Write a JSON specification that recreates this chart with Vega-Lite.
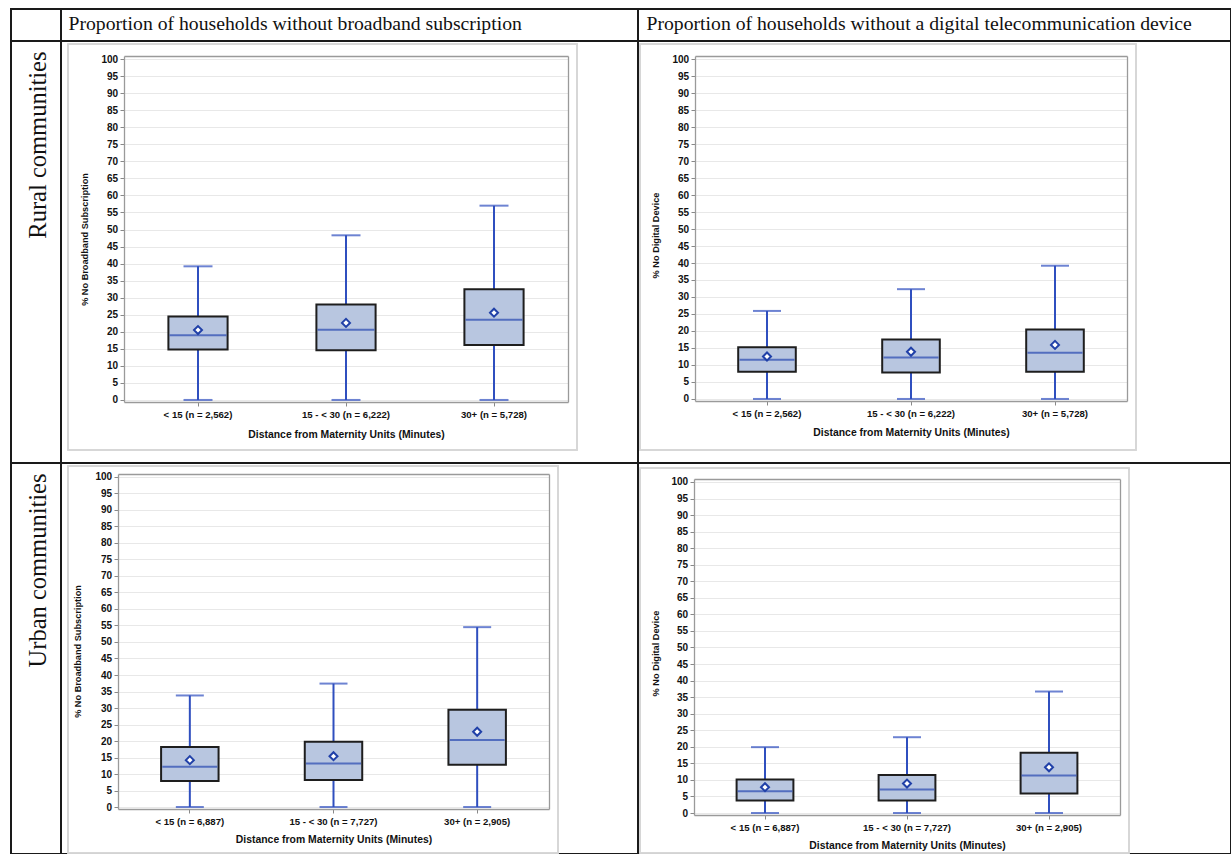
{
  "$schema": "https://vega.github.io/schema/vega-lite/v6.json",
  "background": "white",
  "padding": {"left": 10, "top": 8, "right": 0, "bottom": 0},
  "columns": 3,
  "spacing": 0,
  "bounds": "flush",
  "config": {
    "view": {"stroke": "#1a1a1a", "strokeWidth": 2},
    "axis": {"labelFont": "Liberation Sans", "labelFontSize": 10, "labelFontWeight": "bold", "labelColor": "#111111", "labelOverlap": false, "titleFont": "Liberation Sans", "titleFontWeight": "bold", "titleColor": "#111111", "domainColor": "#9a9a9a", "domainWidth": 1.3, "tickColor": "#888888", "gridColor": "#e8e8e8", "tickSize": 4},
    "axisX": {"grid": false, "titleFontSize": 10.4, "labelFontSize": 9.6, "labelAngle": 0, "labelPadding": 3.5, "titleBaseline": "middle"},
    "axisY": {"titleFontSize": 9.2, "labelPadding": 2.4, "titleBaseline": "middle", "titleAlign": "center", "titleAngle": -90}
  },
  "datasets": {
    "boxes": [
      {"panel": "RB", "dist": "< 15 (n = 2,562)", "lo": 0, "q1": 14.8, "median": 19.0, "q3": 24.5, "hi": 39.2, "mean": 20.5},
      {"panel": "RB", "dist": "15 - < 30 (n = 6,222)", "lo": 0, "q1": 14.6, "median": 20.6, "q3": 28.0, "hi": 48.3, "mean": 22.6},
      {"panel": "RB", "dist": "30+ (n = 5,728)", "lo": 0, "q1": 16.1, "median": 23.5, "q3": 32.5, "hi": 57.0, "mean": 25.6},
      {"panel": "RD", "dist": "< 15 (n = 2,562)", "lo": 0, "q1": 8.0, "median": 11.5, "q3": 15.2, "hi": 25.9, "mean": 12.5},
      {"panel": "RD", "dist": "15 - < 30 (n = 6,222)", "lo": 0, "q1": 7.8, "median": 12.2, "q3": 17.5, "hi": 32.3, "mean": 13.9},
      {"panel": "RD", "dist": "30+ (n = 5,728)", "lo": 0, "q1": 8.0, "median": 13.6, "q3": 20.4, "hi": 39.2, "mean": 15.9},
      {"panel": "UB", "dist": "< 15 (n = 6,887)", "lo": 0, "q1": 7.9, "median": 12.2, "q3": 18.2, "hi": 33.8, "mean": 14.2},
      {"panel": "UB", "dist": "15 - < 30 (n = 7,727)", "lo": 0, "q1": 8.2, "median": 13.2, "q3": 19.8, "hi": 37.4, "mean": 15.4},
      {"panel": "UB", "dist": "30+ (n = 2,905)", "lo": 0, "q1": 12.8, "median": 20.3, "q3": 29.5, "hi": 54.5, "mean": 22.8},
      {"panel": "UD", "dist": "< 15 (n = 6,887)", "lo": 0, "q1": 3.8, "median": 6.6, "q3": 10.1, "hi": 19.9, "mean": 7.8},
      {"panel": "UD", "dist": "15 - < 30 (n = 7,727)", "lo": 0, "q1": 3.8, "median": 7.1, "q3": 11.5, "hi": 22.9, "mean": 8.9},
      {"panel": "UD", "dist": "30+ (n = 2,905)", "lo": 0, "q1": 5.9, "median": 11.3, "q3": 18.2, "hi": 36.7, "mean": 13.8}
    ]
  },
  "concat": [
    {"width": 50, "height": 32, "data": {"values": [{"v": 0}]}, "mark": {"type": "point", "opacity": 0},
     "encoding": {"x": {"field": "v", "type": "quantitative", "axis": null}, "y": {"field": "v", "type": "quantitative", "axis": null}}},
    {"width": 577, "height": 32, "data": {"values": [{"v": 0}]}, "mark": {"type": "point", "opacity": 0},
     "encoding": {"x": {"field": "v", "type": "quantitative",
       "axis": {"orient": "top", "domain": false, "ticks": false, "labels": false, "grid": false,
         "title": "Proportion of households without broadband subscription", "titleX": 7, "titleY": 20, "titleAlign": "left", "titleBaseline": "alphabetic", "titleAngle": 0,
         "titleFont": "Liberation Serif", "titleFontSize": 19.7, "titleFontWeight": "normal", "titleColor": "#111111"}}}},
    {"width": 593, "height": 32, "data": {"values": [{"v": 0}]}, "mark": {"type": "point", "opacity": 0},
     "encoding": {"x": {"field": "v", "type": "quantitative",
       "axis": {"orient": "top", "domain": false, "ticks": false, "labels": false, "grid": false,
         "title": "Proportion of households without a digital telecommunication device", "titleX": 8, "titleY": 20, "titleAlign": "left", "titleBaseline": "alphabetic", "titleAngle": 0,
         "titleFont": "Liberation Serif", "titleFontSize": 19.7, "titleFontWeight": "normal", "titleColor": "#111111"}}}},
    {"width": 50, "height": 422, "data": {"values": [{"v": 0}]}, "mark": {"type": "point", "opacity": 0},
     "encoding": {"y": {"field": "v", "type": "quantitative",
       "axis": {"orient": "left", "domain": false, "ticks": false, "labels": false, "grid": false,
         "title": "Rural communities", "titleX": 27, "titleY": 10, "titleAlign": "right", "titleBaseline": "middle", "titleAngle": -90,
         "titleFont": "Liberation Serif", "titleFontSize": 24.5, "titleFontWeight": "normal", "titleColor": "#111111"}}}},
    {
      "width": 577, "height": 422,
      "data": {"name": "boxes"},
      "transform": [{"filter": "datum.panel == 'RB'"}],
      "resolve": {"axis": {"x": "independent", "y": "independent"}},
      "layer": [
        {
          "encoding": {
            "x": {"field": "dist", "type": "nominal", "sort": null,
              "scale": {"type": "band", "range": [63, 507], "paddingInner": 0, "paddingOuter": 0},
              "axis": {"orient": "bottom", "offset": -61, "title": "Distance from Maternity Units (Minutes)", "titleY": 32}}
          },
          "layer": [
            {"mark": {"type": "rule", "color": "#2f4fbf", "strokeWidth": 2},
             "encoding": {"y": {"field": "lo", "type": "quantitative", "title": "% No Broadband Subscription",
               "scale": {"domain": [-0.6, 100.9], "range": [361, 15], "nice": false, "zero": false},
               "axis": {"offset": -63, "values": [0,5,10,15,20,25,30,35,40,45,50,55,60,65,70,75,80,85,90,95,100], "titleX": -40, "titleY": 198}},
               "y2": {"field": "hi"}}},
            {"mark": {"type": "tick", "color": "#2f4fbf", "thickness": 2, "size": 29},
             "encoding": {"y": {"field": "hi", "type": "quantitative", "title": "% No Broadband Subscription",
               "axis": {"offset": -63, "values": [0,5,10,15,20,25,30,35,40,45,50,55,60,65,70,75,80,85,90,95,100], "titleX": -40, "titleY": 198}}}},
            {"mark": {"type": "tick", "color": "#2f4fbf", "thickness": 2, "size": 29},
             "encoding": {"y": {"field": "lo", "type": "quantitative", "title": "% No Broadband Subscription",
               "axis": {"offset": -63, "values": [0,5,10,15,20,25,30,35,40,45,50,55,60,65,70,75,80,85,90,95,100], "titleX": -40, "titleY": 198}}}},
            {"mark": {"type": "bar", "fill": "#b8c6e0", "stroke": "#1e1e1e", "strokeWidth": 2, "width": {"band": 0.4}},
             "encoding": {"y": {"field": "q1", "type": "quantitative", "title": "% No Broadband Subscription",
               "axis": {"offset": -63, "values": [0,5,10,15,20,25,30,35,40,45,50,55,60,65,70,75,80,85,90,95,100], "titleX": -40, "titleY": 198}}, "y2": {"field": "q3"}}},
            {"mark": {"type": "tick", "color": "#2848b0", "thickness": 2, "size": 57},
             "encoding": {"y": {"field": "median", "type": "quantitative", "title": "% No Broadband Subscription",
               "axis": {"offset": -63, "values": [0,5,10,15,20,25,30,35,40,45,50,55,60,65,70,75,80,85,90,95,100], "titleX": -40, "titleY": 198}}}},
            {"mark": {"type": "point", "shape": "diamond", "filled": true, "fill": "#ffffff", "stroke": "#2040a8", "strokeWidth": 2, "size": 64, "opacity": 1},
             "encoding": {"y": {"field": "mean", "type": "quantitative", "title": "% No Broadband Subscription",
               "axis": {"offset": -63, "values": [0,5,10,15,20,25,30,35,40,45,50,55,60,65,70,75,80,85,90,95,100], "titleX": -40, "titleY": 198}}}}
          ]
        },
        {
          "mark": {"type": "rect", "fill": null, "stroke": "#d6d6d6", "strokeWidth": 1.5},
          "encoding": {
            "x": {"datum": "< 15 (n = 2,562)", "type": "nominal", "bandPosition": -0.378, "axis": {"orient": "top", "offset": -15, "ticks": false, "labels": false, "grid": false, "title": null}},
            "x2": {"datum": "30+ (n = 5,728)", "bandPosition": 1.061},
            "y": {"datum": 104.42, "type": "quantitative", "axis": {"orient": "right", "offset": -70, "ticks": false, "labels": false, "grid": false, "title": null}},
            "y2": {"datum": -14.68}
          }
        }
      ]
    },
    {
      "width": 593, "height": 422,
      "data": {"name": "boxes"},
      "transform": [{"filter": "datum.panel == 'RD'"}],
      "resolve": {"axis": {"x": "independent", "y": "independent"}},
      "layer": [
        {
          "encoding": {
            "x": {"field": "dist", "type": "nominal", "sort": null,
              "scale": {"type": "band", "range": [57, 489], "paddingInner": 0, "paddingOuter": 0},
              "axis": {"orient": "bottom", "offset": -62, "title": "Distance from Maternity Units (Minutes)", "titleY": 31.7}}
          },
          "layer": [
            {"mark": {"type": "rule", "color": "#2f4fbf", "strokeWidth": 2},
             "encoding": {"y": {"field": "lo", "type": "quantitative", "title": "% No Digital Device",
               "scale": {"domain": [-0.6, 100.9], "range": [360, 15], "nice": false, "zero": false},
               "axis": {"offset": -57, "values": [0,5,10,15,20,25,30,35,40,45,50,55,60,65,70,75,80,85,90,95,100], "titleX": -39.7, "titleY": 194}},
               "y2": {"field": "hi"}}},
            {"mark": {"type": "tick", "color": "#2f4fbf", "thickness": 2, "size": 28},
             "encoding": {"y": {"field": "hi", "type": "quantitative", "title": "% No Digital Device",
               "axis": {"offset": -57, "values": [0,5,10,15,20,25,30,35,40,45,50,55,60,65,70,75,80,85,90,95,100], "titleX": -39.7, "titleY": 194}}}},
            {"mark": {"type": "tick", "color": "#2f4fbf", "thickness": 2, "size": 28},
             "encoding": {"y": {"field": "lo", "type": "quantitative", "title": "% No Digital Device",
               "axis": {"offset": -57, "values": [0,5,10,15,20,25,30,35,40,45,50,55,60,65,70,75,80,85,90,95,100], "titleX": -39.7, "titleY": 194}}}},
            {"mark": {"type": "bar", "fill": "#b8c6e0", "stroke": "#1e1e1e", "strokeWidth": 2, "width": {"band": 0.4}},
             "encoding": {"y": {"field": "q1", "type": "quantitative", "title": "% No Digital Device",
               "axis": {"offset": -57, "values": [0,5,10,15,20,25,30,35,40,45,50,55,60,65,70,75,80,85,90,95,100], "titleX": -39.7, "titleY": 194}}, "y2": {"field": "q3"}}},
            {"mark": {"type": "tick", "color": "#2848b0", "thickness": 2, "size": 55},
             "encoding": {"y": {"field": "median", "type": "quantitative", "title": "% No Digital Device",
               "axis": {"offset": -57, "values": [0,5,10,15,20,25,30,35,40,45,50,55,60,65,70,75,80,85,90,95,100], "titleX": -39.7, "titleY": 194}}}},
            {"mark": {"type": "point", "shape": "diamond", "filled": true, "fill": "#ffffff", "stroke": "#2040a8", "strokeWidth": 2, "size": 64, "opacity": 1},
             "encoding": {"y": {"field": "mean", "type": "quantitative", "title": "% No Digital Device",
               "axis": {"offset": -57, "values": [0,5,10,15,20,25,30,35,40,45,50,55,60,65,70,75,80,85,90,95,100], "titleX": -39.7, "titleY": 194}}}}
          ]
        },
        {
          "mark": {"type": "rect", "fill": null, "stroke": "#d6d6d6", "strokeWidth": 1.5},
          "encoding": {
            "x": {"datum": "< 15 (n = 2,562)", "type": "nominal", "bandPosition": -0.382, "axis": {"orient": "top", "offset": -15, "ticks": false, "labels": false, "grid": false, "title": null}},
            "x2": {"datum": "30+ (n = 5,728)", "bandPosition": 1.0625},
            "y": {"datum": 104.43, "type": "quantitative", "axis": {"orient": "right", "offset": -104, "ticks": false, "labels": false, "grid": false, "title": null}},
            "y2": {"datum": -15.02}
          }
        }
      ]
    },
    {"width": 50, "height": 391, "data": {"values": [{"v": 0}]}, "mark": {"type": "point", "opacity": 0},
     "encoding": {"y": {"field": "v", "type": "quantitative",
       "axis": {"orient": "left", "domain": false, "ticks": false, "labels": false, "grid": false,
         "title": "Urban communities", "titleX": 27, "titleY": 10, "titleAlign": "right", "titleBaseline": "middle", "titleAngle": -90,
         "titleFont": "Liberation Serif", "titleFontSize": 24.5, "titleFontWeight": "normal", "titleColor": "#111111"}}}},
    {
      "width": 577, "height": 391,
      "data": {"name": "boxes"},
      "transform": [{"filter": "datum.panel == 'UB'"}],
      "resolve": {"axis": {"x": "independent", "y": "independent"}},
      "layer": [
        {
          "encoding": {
            "x": {"field": "dist", "type": "nominal", "sort": null,
              "scale": {"type": "band", "range": [57, 488], "paddingInner": 0, "paddingOuter": 0},
              "axis": {"orient": "bottom", "offset": -45, "title": "Distance from Maternity Units (Minutes)", "titleY": 30.6}}
          },
          "layer": [
            {"mark": {"type": "rule", "color": "#2f4fbf", "strokeWidth": 2},
             "encoding": {"y": {"field": "lo", "type": "quantitative", "title": "% No Broadband Subscription",
               "scale": {"domain": [-0.6, 100.9], "range": [346, 11], "nice": false, "zero": false},
               "axis": {"offset": -57, "values": [0,5,10,15,20,25,30,35,40,45,50,55,60,65,70,75,80,85,90,95,100], "titleX": -40.3, "titleY": 188}},
               "y2": {"field": "hi"}}},
            {"mark": {"type": "tick", "color": "#2f4fbf", "thickness": 2, "size": 28},
             "encoding": {"y": {"field": "hi", "type": "quantitative", "title": "% No Broadband Subscription",
               "axis": {"offset": -57, "values": [0,5,10,15,20,25,30,35,40,45,50,55,60,65,70,75,80,85,90,95,100], "titleX": -40.3, "titleY": 188}}}},
            {"mark": {"type": "tick", "color": "#2f4fbf", "thickness": 2, "size": 28},
             "encoding": {"y": {"field": "lo", "type": "quantitative", "title": "% No Broadband Subscription",
               "axis": {"offset": -57, "values": [0,5,10,15,20,25,30,35,40,45,50,55,60,65,70,75,80,85,90,95,100], "titleX": -40.3, "titleY": 188}}}},
            {"mark": {"type": "bar", "fill": "#b8c6e0", "stroke": "#1e1e1e", "strokeWidth": 2, "width": {"band": 0.4}},
             "encoding": {"y": {"field": "q1", "type": "quantitative", "title": "% No Broadband Subscription",
               "axis": {"offset": -57, "values": [0,5,10,15,20,25,30,35,40,45,50,55,60,65,70,75,80,85,90,95,100], "titleX": -40.3, "titleY": 188}}, "y2": {"field": "q3"}}},
            {"mark": {"type": "tick", "color": "#2848b0", "thickness": 2, "size": 55},
             "encoding": {"y": {"field": "median", "type": "quantitative", "title": "% No Broadband Subscription",
               "axis": {"offset": -57, "values": [0,5,10,15,20,25,30,35,40,45,50,55,60,65,70,75,80,85,90,95,100], "titleX": -40.3, "titleY": 188}}}},
            {"mark": {"type": "point", "shape": "diamond", "filled": true, "fill": "#ffffff", "stroke": "#2040a8", "strokeWidth": 2, "size": 64, "opacity": 1},
             "encoding": {"y": {"field": "mean", "type": "quantitative", "title": "% No Broadband Subscription",
               "axis": {"offset": -57, "values": [0,5,10,15,20,25,30,35,40,45,50,55,60,65,70,75,80,85,90,95,100], "titleX": -40.3, "titleY": 188}}}}
          ]
        },
        {
          "mark": {"type": "rect", "fill": null, "stroke": "#d6d6d6", "strokeWidth": 1.5},
          "encoding": {
            "x": {"datum": "< 15 (n = 6,887)", "type": "nominal", "bandPosition": -0.348, "axis": {"orient": "top", "offset": -11, "ticks": false, "labels": false, "grid": false, "title": null}},
            "x2": {"datum": "30+ (n = 2,905)", "bandPosition": 1.063},
            "y": {"datum": 103.32, "type": "quantitative", "axis": {"orient": "right", "offset": -89, "ticks": false, "labels": false, "grid": false, "title": null}},
            "y2": {"datum": -13.93}
          }
        }
      ]
    },
    {
      "width": 593, "height": 391,
      "data": {"name": "boxes"},
      "transform": [{"filter": "datum.panel == 'UD'"}],
      "resolve": {"axis": {"x": "independent", "y": "independent"}},
      "layer": [
        {
          "encoding": {
            "x": {"field": "dist", "type": "nominal", "sort": null,
              "scale": {"type": "band", "range": [56, 482], "paddingInner": 0, "paddingOuter": 0},
              "axis": {"orient": "bottom", "offset": -39, "title": "Distance from Maternity Units (Minutes)", "titleY": 30}}
          },
          "layer": [
            {"mark": {"type": "rule", "color": "#2f4fbf", "strokeWidth": 2},
             "encoding": {"y": {"field": "lo", "type": "quantitative", "title": "% No Digital Device",
               "scale": {"domain": [-0.6, 100.9], "range": [352, 16], "nice": false, "zero": false},
               "axis": {"offset": -56, "values": [0,5,10,15,20,25,30,35,40,45,50,55,60,65,70,75,80,85,90,95,100], "titleX": -38.7, "titleY": 190}},
               "y2": {"field": "hi"}}},
            {"mark": {"type": "tick", "color": "#2f4fbf", "thickness": 2, "size": 28},
             "encoding": {"y": {"field": "hi", "type": "quantitative", "title": "% No Digital Device",
               "axis": {"offset": -56, "values": [0,5,10,15,20,25,30,35,40,45,50,55,60,65,70,75,80,85,90,95,100], "titleX": -38.7, "titleY": 190}}}},
            {"mark": {"type": "tick", "color": "#2f4fbf", "thickness": 2, "size": 28},
             "encoding": {"y": {"field": "lo", "type": "quantitative", "title": "% No Digital Device",
               "axis": {"offset": -56, "values": [0,5,10,15,20,25,30,35,40,45,50,55,60,65,70,75,80,85,90,95,100], "titleX": -38.7, "titleY": 190}}}},
            {"mark": {"type": "bar", "fill": "#b8c6e0", "stroke": "#1e1e1e", "strokeWidth": 2, "width": {"band": 0.4}},
             "encoding": {"y": {"field": "q1", "type": "quantitative", "title": "% No Digital Device",
               "axis": {"offset": -56, "values": [0,5,10,15,20,25,30,35,40,45,50,55,60,65,70,75,80,85,90,95,100], "titleX": -38.7, "titleY": 190}}, "y2": {"field": "q3"}}},
            {"mark": {"type": "tick", "color": "#2848b0", "thickness": 2, "size": 55},
             "encoding": {"y": {"field": "median", "type": "quantitative", "title": "% No Digital Device",
               "axis": {"offset": -56, "values": [0,5,10,15,20,25,30,35,40,45,50,55,60,65,70,75,80,85,90,95,100], "titleX": -38.7, "titleY": 190}}}},
            {"mark": {"type": "point", "shape": "diamond", "filled": true, "fill": "#ffffff", "stroke": "#2040a8", "strokeWidth": 2, "size": 64, "opacity": 1},
             "encoding": {"y": {"field": "mean", "type": "quantitative", "title": "% No Digital Device",
               "axis": {"offset": -56, "values": [0,5,10,15,20,25,30,35,40,45,50,55,60,65,70,75,80,85,90,95,100], "titleX": -38.7, "titleY": 190}}}}
          ]
        },
        {
          "mark": {"type": "rect", "fill": null, "stroke": "#d6d6d6", "strokeWidth": 1.5},
          "encoding": {
            "x": {"datum": "< 15 (n = 6,887)", "type": "nominal", "bandPosition": -0.38, "axis": {"orient": "top", "offset": -16, "ticks": false, "labels": false, "grid": false, "title": null}},
            "x2": {"datum": "30+ (n = 2,905)", "bandPosition": 1.063},
            "y": {"datum": 104.22, "type": "quantitative", "axis": {"orient": "right", "offset": -111, "ticks": false, "labels": false, "grid": false, "title": null}},
            "y2": {"datum": -12.08}
          }
        }
      ]
    }
  ]
}
